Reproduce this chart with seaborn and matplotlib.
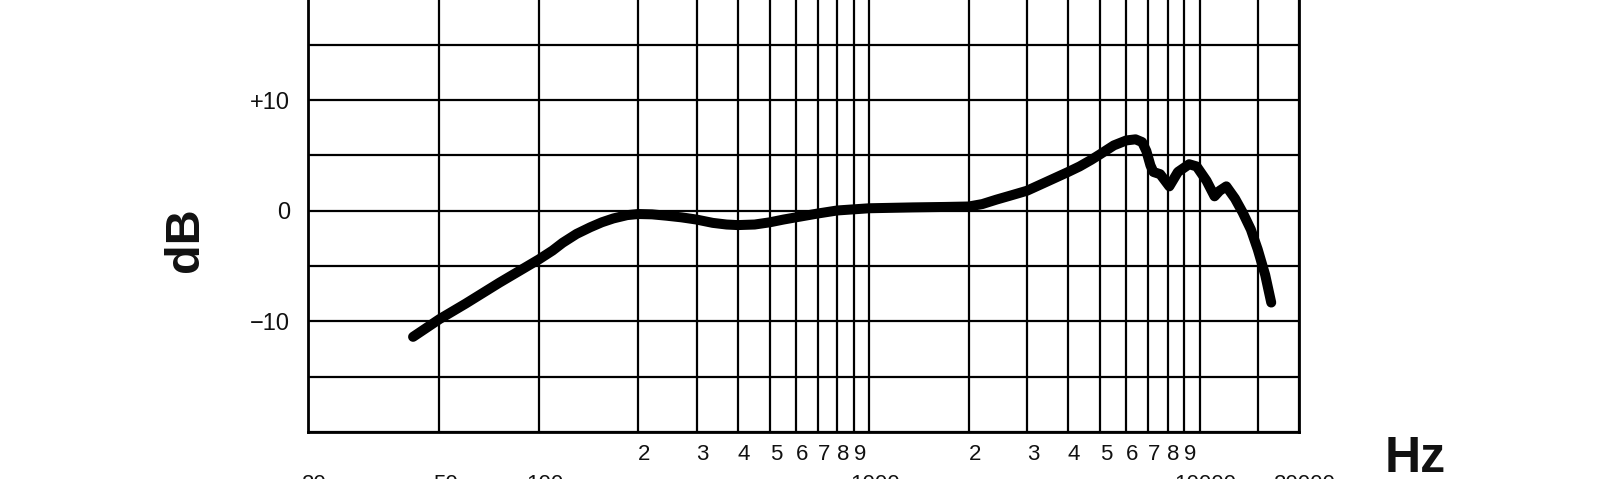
import numpy as np
import pandas as pd
import matplotlib
matplotlib.use("Agg")
import matplotlib.pyplot as plt
import matplotlib.transforms as mtransforms
import seaborn as sns

# ---- data ----
freq_hz = [41.6, 50, 60, 76, 100, 110, 118, 130, 143, 155, 168, 185, 200, 220, 243, 270,
           300, 336, 370, 400, 450, 500, 550, 600, 700, 800, 1000, 1357, 1700, 2000, 2200,
           2426, 2700, 3000, 3436, 4000, 4334, 4700, 5000, 5500, 6000, 6400, 6700, 6900,
           7100, 7250, 7600, 8100, 8600, 9300, 9800, 10500, 11100, 11500, 12050, 12800,
           13500, 14300, 15000, 15800, 16480]
level_db = [-11.4, -9.8, -8.4, -6.5, -4.4, -3.6, -2.9, -2.1, -1.5, -1.05, -0.7, -0.4, -0.3,
            -0.33, -0.45, -0.6, -0.8, -1.1, -1.25, -1.3, -1.25, -1.05, -0.8, -0.6, -0.25,
            0.02, 0.22, 0.3, 0.34, 0.38, 0.6, 1.0, 1.4, 1.8, 2.6, 3.5, 4.0, 4.6, 5.1, 5.9,
            6.35, 6.45, 6.2, 5.4, 4.1, 3.5, 3.3, 2.2, 3.5, 4.2, 4.0, 2.7, 1.3, 1.8, 2.2,
            1.1, -0.15, -1.7, -3.5, -5.8, -8.3]

y_ticks = [-20, -15, -10, -5, 0, 5, 10, 15, 20]
y_labels = ["", "", "\u221210", "", "0", "", "+10", "", ""]
x_major = [20, 50, 100, 1000, 10000, 20000]
x_major_labels = ["20", "50", "100", "1000", "10000", "20000"]
x_minor = [200, 300, 400, 500, 600, 700, 800, 900,
           2000, 3000, 4000, 5000, 6000, 7000, 8000, 9000, 15000]
x_minor_labels = ["2", "3", "4", "5", "6", "7", "8", "9",
                  "2", "3", "4", "5", "6", "7", "8", "9", ""]

df = pd.DataFrame({"freq": freq_hz, "db": level_db})

sns.set_style("white")
plt.rcParams["font.family"] = ["Liberation Sans", "DejaVu Sans"]

fig = plt.figure(figsize=(16, 4.79), dpi=100)
ax = fig.add_axes([308 / 1600, 47 / 479, 991 / 1600, (479 + 10.6) / 479 - 47 / 479])

ax.set_xscale("log")
ax.set_xlim(20, 20000)
ax.set_ylim(-20, 20)

sns.lineplot(data=df, x="freq", y="db", ax=ax, color="black", linewidth=7.2,
             solid_capstyle="round", solid_joinstyle="round", zorder=5)

ax.set_yticks(y_ticks)
ax.set_yticklabels(y_labels)
ax.set_xticks(x_major)
ax.set_xticklabels(x_major_labels)
ax.set_xticks(x_minor, minor=True)
ax.set_xticklabels(x_minor_labels, minor=True)

ax.tick_params(axis="y", which="both", length=0, pad=13, labelsize=17, labelcolor="#111111")
ax.tick_params(axis="x", which="major", length=0, pad=30, labelsize=16, labelcolor="#111111")
ax.tick_params(axis="x", which="minor", length=0, pad=9, labelsize=16, labelcolor="#111111")

# shift x labels slightly right as in the reference
off = mtransforms.ScaledTranslation(6 / 100, 0, fig.dpi_scale_trans)
for lab in ax.get_xticklabels(which="both"):
    lab.set_transform(lab.get_transform() + off)

ax.grid(True, which="both", axis="x", color="black", linewidth=1.6)
ax.grid(True, which="major", axis="y", color="black", linewidth=1.6)
for sp in ax.spines.values():
    sp.set_visible(True)
    sp.set_color("black")
    sp.set_linewidth(2.0)

ax.set_xlabel("")
ax.set_ylabel("")

fig.text(185 / 1600, 0.499, "dB", rotation=90, ha="center", va="center",
         fontsize=35, fontweight="bold", color="#111111")
fig.text(1385 / 1600, 7 / 479, "Hz", ha="left", va="baseline",
         fontsize=36, fontweight="bold", color="#111111")

fig.savefig("out.png", dpi=100, facecolor="white")
